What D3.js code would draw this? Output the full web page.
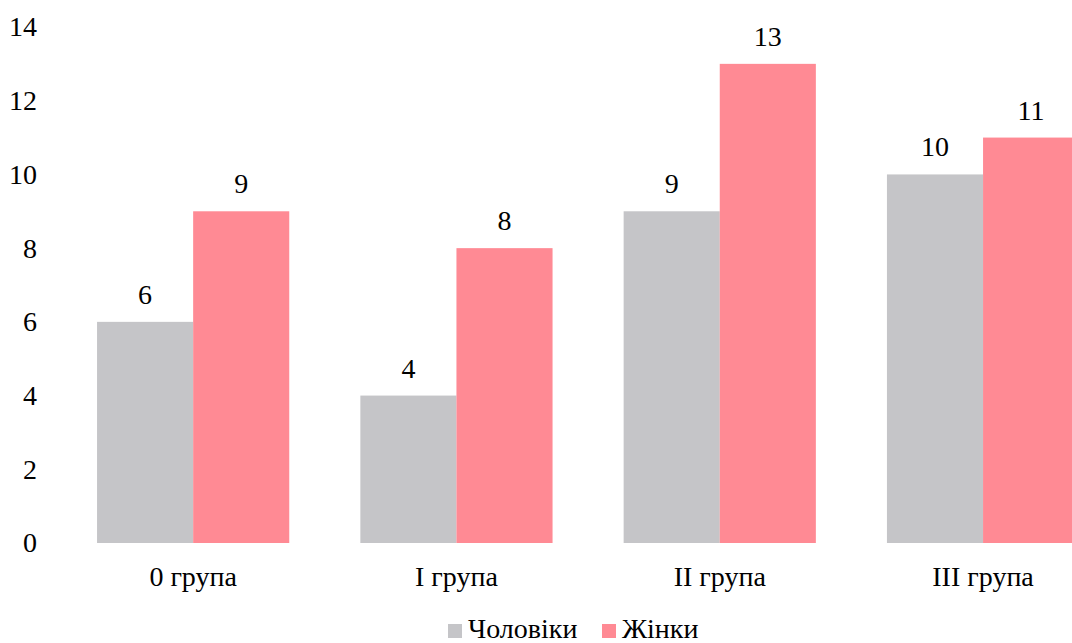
<!DOCTYPE html>
<html>
<head>
<meta charset="utf-8">
<script src="https://cdn.jsdelivr.net/npm/d3@7"></script>
</head>
<body style="margin:0">
<svg id="chart" width="1072" height="643" style="display:block;font-family:'Liberation Serif'"></svg>
<script>
// Chart data
const categories = ["0 група", "I група", "II група", "III група"];
const seriesNames = ["Чоловіки", "Жінки"];
const men = [6, 4, 9, 10];
const women = [9, 8, 13, 11];
const yTicks = [0, 2, 4, 6, 8, 10, 12, 14];

const colors = ["#c5c5c8", "#ff8a94"];
const FONT = "Liberation Serif";
const fontSize = 28;

const svg = d3.select("#chart");

const y = d3.scaleLinear().domain([0, 14]).range([543, 27]);

const x = d3.scaleBand()
  .domain(categories)
  .range([61.5, 1114.7])
  .paddingInner(0.27)
  .paddingOuter(0.135);

const xs = d3.scaleBand()
  .domain(seriesNames)
  .range([0, x.bandwidth()]);

const rows = categories.map((c, i) => ({ cat: c, values: [men[i], women[i]] }));

function styleText(sel) {
  sel.attr("font-family", FONT)
     .style("font-family", FONT)
     .attr("font-size", fontSize)
     .attr("fill", "#000");
}

// Bars
const groups = svg.append("g").selectAll("g")
  .data(rows).join("g")
  .attr("transform", d => `translate(${x(d.cat)},0)`);

groups.selectAll("rect")
  .data(d => d.values.map((v, k) => ({ key: seriesNames[k], v, k })))
  .join("rect")
  .attr("x", d => xs(d.key))
  .attr("y", d => y(d.v))
  .attr("width", xs.bandwidth())
  .attr("height", d => y(0) - y(d.v))
  .attr("fill", d => colors[d.k]);

// Value labels
groups.selectAll("text")
  .data(d => d.values.map((v, k) => ({ key: seriesNames[k], v, k })))
  .join("text")
  .attr("x", d => xs(d.key) + xs.bandwidth() / 2)
  .attr("y", d => y(d.v) - 18)
  .attr("text-anchor", "middle")
  .text(d => d.v)
  .call(styleText);

// Y axis (labels only)
const yAxis = d3.axisLeft(y).tickValues(yTicks).tickSize(0).tickPadding(0);
const gy = svg.append("g").attr("transform", "translate(37,0)").call(yAxis);
gy.attr("font-family", FONT).attr("font-size", fontSize);
gy.select(".domain").remove();
gy.selectAll("text").call(styleText);

// X axis (labels only)
const xAxis = d3.axisBottom(x).tickSize(0).tickPadding(0);
const gx = svg.append("g").attr("transform", "translate(0,566)").call(xAxis);
gx.attr("font-family", FONT).attr("font-size", fontSize);
gx.select(".domain").remove();
gx.selectAll("text").call(styleText);

// Legend
const legendItems = [
  { name: seriesNames[0], color: colors[0], x: 448 },
  { name: seriesNames[1], color: colors[1], x: 602 }
];
const lg = svg.append("g");
legendItems.forEach(it => {
  lg.append("rect").attr("x", it.x).attr("y", 624).attr("width", 14).attr("height", 14).attr("fill", it.color);
  lg.append("text").attr("x", it.x + 20).attr("y", 638).text(it.name).call(styleText);
});
</script>
</body>
</html>
